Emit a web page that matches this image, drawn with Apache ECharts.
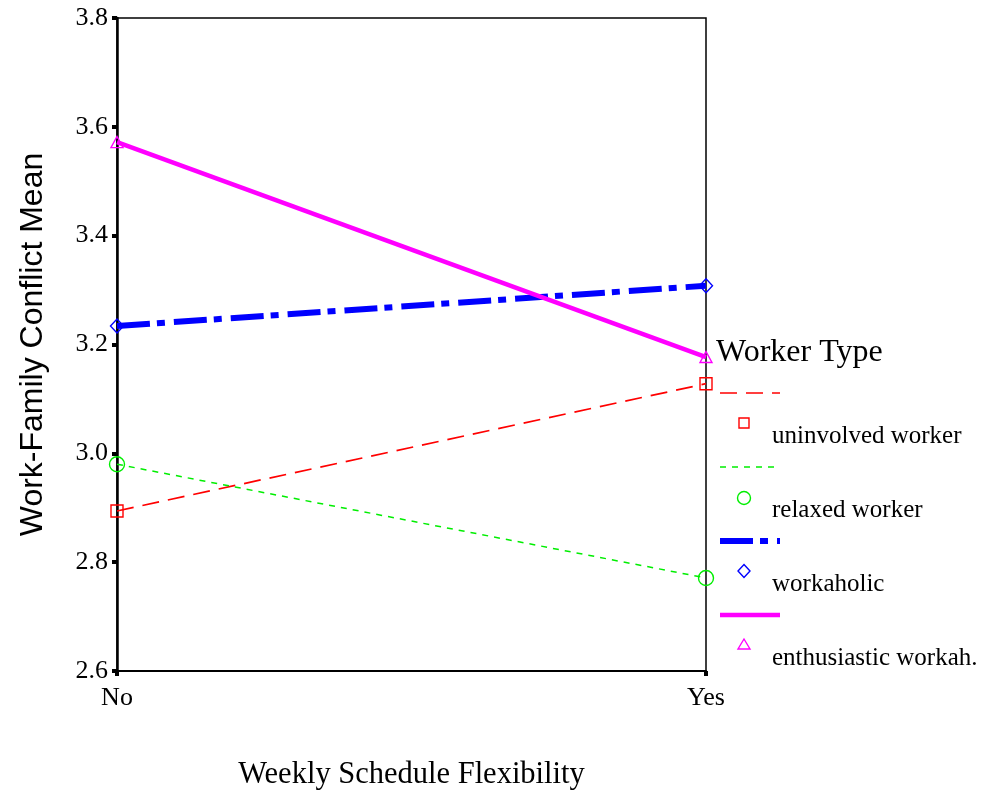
<!DOCTYPE html>
<html><head><meta charset="utf-8">
<script src="https://cdn.jsdelivr.net/npm/echarts@6/dist/echarts.min.js"></script>
<style>html,body{margin:0;padding:0;background:#fff}#c{width:988px;height:797px}</style>
</head><body><div id="c"></div>
<script>
var categories = ['No', 'Yes'];
var uninvolved = [2.894, 3.128];
var relaxed = [2.980, 2.771];
var workaholic = [3.234, 3.308];
var enthusiastic = [3.572, 3.177];
var seriesNames = ['uninvolved worker', 'relaxed worker', 'workaholic', 'enthusiastic workah.'];
var yTicks = [2.6, 2.8, 3.0, 3.2, 3.4, 3.6, 3.8];

var colors = ['#ff0000', '#00ee00', '#0000ff', '#ff00ff'];
var symbols = ['rect', 'circle', 'diamond', 'triangle'];
var symSizes = [[12,12],[15,15],[13,14],[12,11]];
var widths = [1.7, 1.5, 6, 4.5];
var dashes = [[17,9], [6,6], [33,7,8,9], 'solid'];
var dataSets = [uninvolved, relaxed, workaholic, enthusiastic];

var chart = echarts.init(document.getElementById('c'));
var series = dataSets.map(function(d, i){
  return {
    name: seriesNames[i], type: 'line', data: d,
    symbol: symbols[i], symbolSize: symSizes[i],
    showSymbol: true, z: 3,
    lineStyle: {color: colors[i], width: widths[i], type: dashes[i]},
    itemStyle: {color: 'rgba(255,255,255,0)', borderColor: colors[i], borderWidth: 1.4},
    emphasis: {disabled: true}, animation: false
  };
});

var graphics = [{type:'text', left: 716, top: 337, style:{text:'Worker Type', font:'32px "Liberation Serif"', fill:'#000'}}];
var base = 393, step = 74;
for (var i = 0; i < 4; i++) {
  var y = base + i*step;
  graphics.push({type:'line', shape:{x1:720,y1:y,x2:780,y2:y}, style:{stroke:colors[i], lineWidth:widths[i], lineDash: dashes[i]==='solid'?null:dashes[i]}});
  var my = y + 30;
  var s = {stroke: colors[i], fill:'none', lineWidth:1.4};
  if (i===0) graphics.push({type:'rect', shape:{x:739,y:my-5,width:10,height:10}, style:s});
  if (i===1) graphics.push({type:'circle', shape:{cx:744,cy:my+1,r:6.5}, style:s});
  if (i===2) graphics.push({type:'polygon', shape:{points:[[744,my-6.5],[750,my],[744,my+6.5],[738,my]]}, style:s});
  if (i===3) graphics.push({type:'polygon', shape:{points:[[744,my-6],[750,my+4],[738,my+4]]}, style:s});
  graphics.push({type:'text', left: 772, top: y+31, style:{text: seriesNames[i], font:'25px "Liberation Serif"', fill:'#000'}});
}

chart.setOption({
  animation: false,
  grid: {left:117, right:282, top:18, bottom:126, show:true, borderColor:'#000', borderWidth:1.5, backgroundColor:'transparent'},
  xAxis: {
    type:'category', data: categories, boundaryGap:false,
    axisLine:{lineStyle:{color:'#000', width:2}},
    axisTick:{show:true, length:5, lineStyle:{color:'#000', width:4}},
    axisLabel:{color:'#000', fontFamily:'Liberation Serif', fontSize:26, margin:14},
    splitLine:{show:false},
    name:'Weekly Schedule Flexibility', nameLocation:'middle', nameGap:88,
    nameTextStyle:{color:'#000', fontFamily:'Liberation Serif', fontSize:30.5}
  },
  yAxis: {
    type:'value', min:2.6, max:3.8, interval:0.2,
    axisLine:{show:true, lineStyle:{color:'#000', width:2.5}},
    axisTick:{show:true, length:5, lineStyle:{color:'#000', width:4}},
    axisLabel:{color:'#000', fontFamily:'Liberation Serif', fontSize:26, margin:9,
      formatter:function(v){ return v.toFixed(1); }},
    splitLine:{show:false},
    name:'Work-Family Conflict Mean', nameLocation:'middle', nameGap:68,
    nameTextStyle:{color:'#000', fontFamily:'Liberation Sans', fontSize:32}
  },
  series: series,
  graphic: graphics
});
</script></body></html>
